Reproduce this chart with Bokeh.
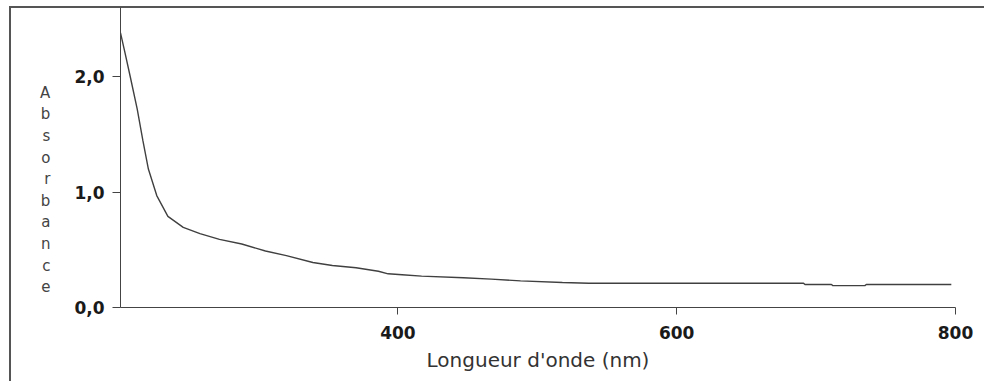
from bokeh.plotting import figure
from bokeh.models import Range1d, FixedTicker
from bokeh.embed import file_html
from bokeh.resources import INLINE

# Data
wavelength = [201, 204, 208, 213, 217, 221, 227, 235, 246, 258, 272, 288, 305, 320,
              339, 353, 370, 386, 393, 403, 417, 447, 467, 488, 518, 537, 600, 691,
              692, 711, 712, 735, 736, 797]
absorbance = [2.38, 2.22, 2.00, 1.72, 1.45, 1.20, 0.97, 0.79, 0.695, 0.64, 0.59, 0.55,
              0.49, 0.45, 0.39, 0.364, 0.344, 0.314, 0.292, 0.284, 0.272, 0.258, 0.246,
              0.231, 0.217, 0.21, 0.21, 0.21, 0.199, 0.199, 0.19, 0.19, 0.199, 0.199]

x_ticks = [400, 600, 800]
y_ticks = [0, 1, 2]
y_tick_labels = ["0,0", "1,0", "2,0"]
x_title = "Longueur d'onde (nm)"
y_title = "Absorbance"

AX = "#444444"

frame_css = ("linear-gradient(#555555,#555555) 9px 6px / 975px 2px no-repeat, "
             "linear-gradient(#555555,#555555) 9px 6px / 2px 375px no-repeat, white")

p = figure(width=984, height=381, output_backend="svg", toolbar_location=None,
           x_range=Range1d(201, 800), y_range=Range1d(0, 2.6),
           min_border_left=120, min_border_right=29, min_border_top=7,
           min_border_bottom=74, styles={"background": frame_css})
p.outline_line_color = None
p.grid.visible = False
p.background_fill_alpha = 0
p.border_fill_alpha = 0

p.line(wavelength, absorbance, line_color="#404040", line_width=1.4)

# x axis
xa = p.xaxis[0]
xa.ticker = FixedTicker(ticks=x_ticks)
xa.axis_line_color = AX
xa.major_tick_line_color = AX
xa.major_tick_out = 7
xa.major_tick_in = 0
xa.minor_tick_line_color = None
xa.major_label_text_font = "DejaVu Sans"
xa.major_label_text_font_style = "bold"
xa.major_label_text_font_size = "17px"
xa.major_label_text_color = "#1a1a1a"
xa.major_label_standoff = 11
xa.axis_label = x_title
xa.axis_label_text_font = "DejaVu Sans"
xa.axis_label_text_font_style = "normal"
xa.axis_label_text_font_size = "20px"
xa.axis_label_text_color = "#333333"
xa.axis_label_standoff = 6

# y axis
ya = p.yaxis[0]
ya.ticker = FixedTicker(ticks=y_ticks)
ya.major_label_overrides = {t: lab for t, lab in zip(y_ticks, y_tick_labels)}
ya.axis_line_color = AX
ya.major_tick_line_color = AX
ya.major_tick_out = 8
ya.major_tick_in = 0
ya.minor_tick_line_color = None
ya.major_label_text_font = "DejaVu Sans"
ya.major_label_text_font_style = "bold"
ya.major_label_text_font_size = "17px"
ya.major_label_text_color = "#1a1a1a"
ya.major_label_standoff = 8

# vertical stacked y title, one letter per line
ya.axis_label = "\n\n\n" + "\n".join(y_title)
ya.axis_label_orientation = "horizontal"
ya.axis_label_text_font = "DejaVu Sans"
ya.axis_label_text_font_style = "normal"
ya.axis_label_text_font_size = "15px"
ya.axis_label_text_color = "#444444"
ya.axis_label_text_line_height = 1.2
ya.axis_label_standoff = 21

open("out.html", "w").write(file_html(p, INLINE))
